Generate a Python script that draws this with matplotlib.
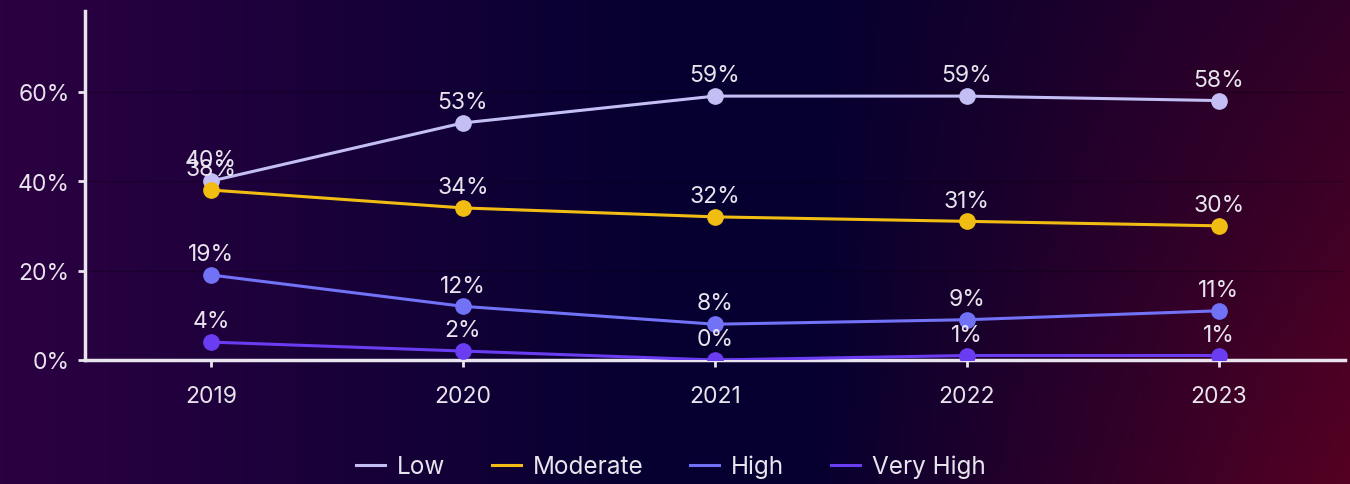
import numpy as np
import matplotlib.pyplot as plt

years = ['2019', '2020', '2021', '2022', '2023']
low = [40, 53, 59, 59, 58]
moderate = [38, 34, 32, 31, 30]
high = [19, 12, 8, 9, 11]
very_high = [4, 2, 0, 1, 1]

series = [('Low', low, '#c3bff5'),
          ('Moderate', moderate, '#f2bd12'),
          ('High', high, '#7272f7'),
          ('Very High', very_high, '#6a3cf2')]

plt.rcParams['font.family'] = ['Inter', 'DejaVu Sans']
txt = '#e8e4ee'

fig = plt.figure(figsize=(13.5, 4.85), dpi=100)

# gradient background
bg = fig.add_axes([0, 0, 1, 1], zorder=-1)
h, w = 100, 300
xx = np.linspace(0, 1, w)[None, :]
yy = np.linspace(0, 1, h)[:, None]
left = np.array([0x2c, 0x00, 0x42]) / 255
mid = np.array([0x05, 0x00, 0x30]) / 255
right = np.array([0x55, 0x00, 0x22]) / 255
t = xx
img = np.zeros((h, w, 3))
for c in range(3):
    a = left[c] + (mid[c] - left[c]) * np.clip(t / 0.5, 0, 1)
    k = np.clip((t - 0.6) / 0.4, 0, 1) * (0.55 + 0.45 * yy)
    b = mid[c] + (right[c] - mid[c]) * k
    img[:, :, c] = np.where(t < 0.5, a, b)
bg.imshow(img, aspect='auto', extent=[0, 1, 0, 1], origin='upper')
bg.axis('off')

ax = fig.add_axes([0.063, 0.2557, 0.933, 0.7193])
ax.set_facecolor('none')
x = np.arange(len(years))
for name, vals, col in series:
    ax.plot(x, vals, color=col, lw=2.2, marker='o', ms=11, label=name, zorder=3)
    for xi, v in zip(x, vals):
        ax.annotate(f'{v}%', (xi, v), xytext=(0, 7), textcoords='offset points',
                    ha='center', va='bottom', color=txt, fontsize=16.5, zorder=4)

ax.set_xlim(-0.5, 4.5)
ax.set_ylim(0, 78)
ax.set_yticks([0, 20, 40, 60])
ax.set_yticklabels(['0%', '20%', '40%', '60%'])
ax.set_xticks(x)
ax.set_xticklabels(years)
ax.tick_params(colors=txt, labelsize=16.5, width=2, length=5)
ax.tick_params(axis='x', pad=13)
ax.tick_params(axis='y', pad=6)
ax.grid(axis='y', color='#000000', alpha=0.25, lw=1)
for s in ['top', 'right']:
    ax.spines[s].set_visible(False)
for s in ['left', 'bottom']:
    ax.spines[s].set_color(txt)
    ax.spines[s].set_linewidth(2.5)

ax.legend(loc='center', bbox_to_anchor=(0.465, -0.305), ncol=4, frameon=False,
          fontsize=17.5, labelcolor=txt, handlelength=1.2, handletextpad=0.5,
          columnspacing=1.9, markerscale=0)

fig.savefig('out.png', dpi=100)
